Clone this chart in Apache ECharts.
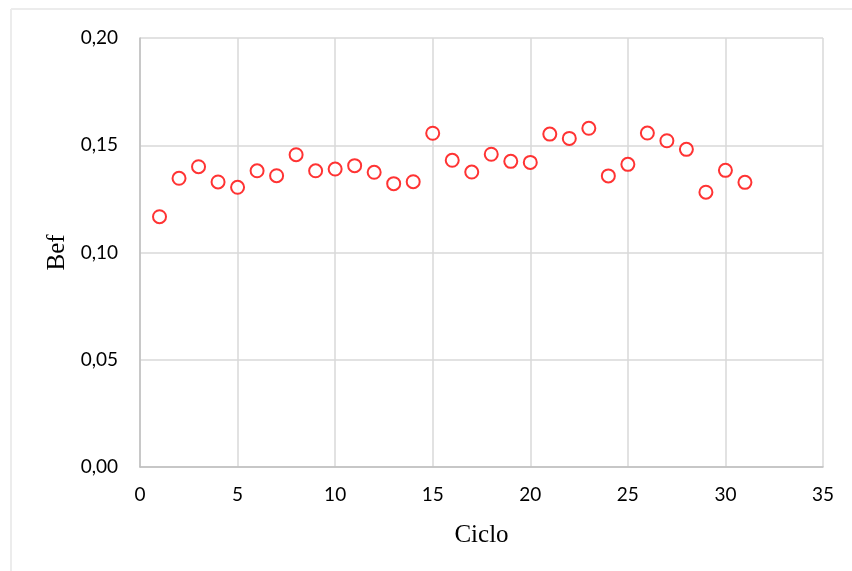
<!DOCTYPE html>
<html><head><meta charset="utf-8">
<script src="https://cdn.jsdelivr.net/npm/echarts@6/dist/echarts.min.js"></script>
<style>html,body{margin:0;padding:0;background:#fff}#c{width:852px;height:571px}</style>
</head><body><div id="c"></div>
<script>
const ciclo = [1,2,3,4,5,6,7,8,9,10,11,12,13,14,15,16,17,18,19,20,21,22,23,24,25,26,27,28,29,30,31];
const bef = [0.1167,0.1346,0.1400,0.1329,0.1304,0.1381,0.1358,0.1456,0.1381,0.1389,0.1405,0.1374,0.1321,0.1330,0.1556,0.1430,
             0.1375,0.1458,0.1425,0.1420,0.1552,0.1532,0.1579,0.1357,0.1411,0.1557,0.1521,0.1481,0.1281,0.1383,0.1327];
const xTitle = 'Ciclo';
const yTitle = 'Bef';

const chart = echarts.init(document.getElementById('c'));
chart.setOption({
  animation: false,
  backgroundColor: '#fff',
  graphic: [
    {type:'line', shape:{x1:11,y1:9,x2:852,y2:9}, style:{stroke:'#ececec', lineWidth:2}, silent:true},
    {type:'line', shape:{x1:11,y1:9,x2:11,y2:571}, style:{stroke:'#ececec', lineWidth:2}, silent:true}
  ],
  grid: {left:140, right:29, top:38, bottom:104, containLabel:false},
  xAxis: {
    type:'value', min:0, max:35, interval:5,
    name: xTitle, nameLocation:'middle', nameGap:56,
    nameTextStyle:{fontFamily:'Liberation Serif', fontSize:25, color:'#000'},
    axisLine:{show:true, onZero:false, lineStyle:{color:'#bfbfbf', width:1.5}},
    axisTick:{show:false},
    axisLabel:{fontFamily:'Lato', fontSize:19, color:'#000', margin:18},
    splitLine:{show:true, lineStyle:{color:'#d9d9d9', width:1.5}}
  },
  yAxis: {
    type:'value', min:0, max:0.2, interval:0.05,
    name: yTitle, nameLocation:'middle', nameGap:68, nameRotate:90,
    nameTextStyle:{fontFamily:'Liberation Serif', fontSize:25, color:'#000'},
    axisLine:{show:true, lineStyle:{color:'#bfbfbf', width:1.5}},
    axisTick:{show:false},
    axisLabel:{fontFamily:'Lato', fontSize:19, color:'#000', margin:22,
      formatter: v => v.toFixed(2).replace('.', ',')},
    splitLine:{show:true, lineStyle:{color:'#d9d9d9', width:1.5}}
  },
  series: [{
    type:'scatter',
    data: ciclo.map((c,i)=>[c, bef[i]]),
    symbol:'circle', symbolSize:13,
    itemStyle:{color:'#fff', borderColor:'#ff0000', borderWidth:2}
  }]
});
</script></body></html>
